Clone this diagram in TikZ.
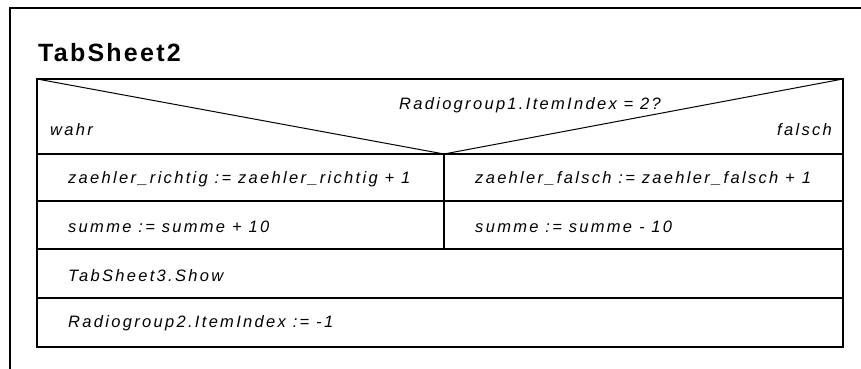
\documentclass[tikz,border=0pt]{standalone}
\usepackage{fontspec}
\newfontfamily\diafont[LetterSpace=14]{Liberation Sans}
\newfontfamily\titelfont[LetterSpace=9]{Liberation Sans}
\usetikzlibrary{calc}

\tikzset{
  rahmen/.style={line width=2pt},
  zelle/.style={line width=2pt},
  diag/.style={line width=1pt},
  txt/.style={inner sep=0pt, font=\diafont\itshape\fontsize{16.5}{20}\selectfont}
}

\begin{document}
\begin{tikzpicture}[x=1pt,y=-1pt]

    \useasboundingbox (0,0) rectangle (861,369);

    % 外框(右侧与底部被裁掉)
    \draw[rahmen] (861,8) -- (10,8) -- (10,369);

    % 标题
    \node[inner sep=0pt, anchor=base west, font=\titelfont\bfseries\fontsize{25}{30}\selectfont] (titel) at (38,62) {TabSheet2};

    % 结构图的角点
    \coordinate (nw) at (37,79);
    \coordinate (ne) at (843,79);
    \coordinate (sw) at (37,347);
    \coordinate (se) at (843,347);
    \coordinate (spitze) at (444,154); % 条件的分叉点

    % 各行的分隔线
    \coordinate (z1) at (37,154);
    \coordinate (z2) at (37,201);
    \coordinate (z3) at (37,249);
    \coordinate (z4) at (37,298);

    % 外框与行
    \draw[zelle] (nw) rectangle (se);
    \draw[zelle] (z1) -- (z1 -| se);
    \draw[zelle] (z2) -- (z2 -| se);
    \draw[zelle] (z3) -- (z3 -| se);
    \draw[zelle] (z4) -- (z4 -| se);

    % 两个分支之间的竖线
    \draw[line width=2.5pt] (spitze) -- (spitze |- z3);

    % 条件三角形
    \draw[diag] (nw) -- (spitze) -- (ne);

    % 条件与分支标签
    \node[txt, anchor=base] (bedingung) at (530,109) {Radiogroup1.ItemIndex = 2?};
    \node[txt, anchor=base west] (wahr) at (50,135) {wahr};
    \node[txt, anchor=base east] (falsch) at (832,135) {falsch};

    % 左分支
    \node[txt, anchor=base west] (richtig) at (68,183) {zaehler\_richtig := zaehler\_richtig + 1};
    \node[txt, anchor=base west] (plus) at (68,232) {summe := summe + 10};

    % 右分支
    \node[txt, anchor=base west] (falschzaehler) at (475,183) {zaehler\_falsch := zaehler\_falsch + 1};
    \node[txt, anchor=base west] (minus) at (475,232) {summe := summe - 10};

    % 后续语句
    \node[txt, anchor=base west] (zeigen) at (68,281) {TabSheet3.Show};
    \node[txt, anchor=base west] (radio) at (68,327) {Radiogroup2.ItemIndex := -1};

\end{tikzpicture}
\end{document}
